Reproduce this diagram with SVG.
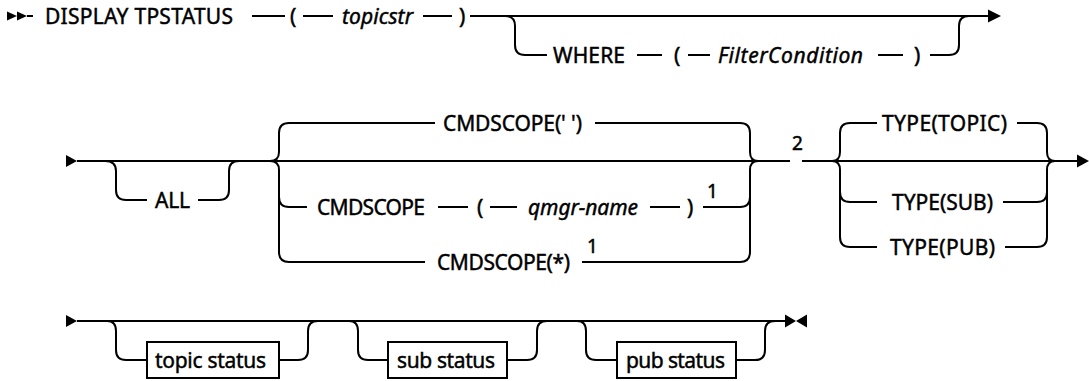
<svg xmlns="http://www.w3.org/2000/svg" width="1089" height="381" viewBox="0 0 1089 381">
<style>
.t{font-family:"Noto Sans","Liberation Sans",sans-serif;font-size:21px;fill:#000;stroke:#000;stroke-width:0.45}
.i{font-style:italic}
.s{font-family:"Noto Sans","Liberation Sans",sans-serif;font-size:19px;fill:#000;stroke:#000;stroke-width:0.5}
.c{fill:none;stroke:#000;stroke-width:2}
.a{fill:#000}
.b{fill:#fff;stroke:#000;stroke-width:2}
</style>
<rect width="1089" height="381" fill="#fff"/>
<g id="connectors">
<!-- row 1 -->
<polygon class="a" points="7,11.5 17,16 7,20.5"/>
<polygon class="a" points="17,11.5 27,16 17,20.5"/>
<path class="c" d="M27 16H33M252 16H285M303 16H333M423 16H452M470 16H989"/>
<polygon class="a" points="988,9.5 1001,16 988,22.5"/>
<path class="c" d="M505 16Q515 16 515 26V45Q515 55 525 55H547"/>
<path class="c" d="M637 55H662M688 55H710M878 55H903"/>
<path class="c" d="M930 55H949Q959 55 959 45V26Q959 16 969 16"/>
<!-- row 2 -->
<polygon class="a" points="66,155 77,161 66,167"/>
<path class="c" d="M77 161H790M802 161H1078"/>
<polygon class="a" points="1077,154.5 1089,161 1077,167.5"/>
<path class="c" d="M105 161Q116 161 116 171V190Q116 200 126 200H147"/>
<path class="c" d="M198 200H219Q229 200 229 190V171Q229 161 239 161"/>
<path class="c" d="M270 161Q279 161 279 152V133Q279 123 289 123H435"/>
<path class="c" d="M270 161Q279 161 279 170V252Q279 262 289 262H425"/>
<path class="c" d="M279 197Q279 207 289 207H307"/>
<path class="c" d="M438 207H468M490 207H517M650 207H680"/>
<path class="c" d="M595 123H740Q750 123 750 133V152Q750 161 758 161"/>
<path class="c" d="M582 262H740Q750 262 750 252V170Q750 161 758 161"/>
<path class="c" d="M703 207H740Q750 207 750 197"/>
<path class="c" d="M832 161Q840 161 840 152V133Q840 123 850 123H877"/>
<path class="c" d="M832 161Q840 161 840 170V237Q840 247 850 247H877"/>
<path class="c" d="M840 192Q840 202 850 202H877"/>
<path class="c" d="M1017 123H1037Q1047 123 1047 133V152Q1047 161 1055 161"/>
<path class="c" d="M1005 247H1037Q1047 247 1047 237V170Q1047 161 1055 161"/>
<path class="c" d="M1003 202H1037Q1047 202 1047 192"/>
<!-- row 3 -->
<polygon class="a" points="66,315 77,321 66,327"/>
<path class="c" d="M77 321H786"/>
<polygon class="a" points="785,314.5 796,321 785,327.5"/>
<polygon class="a" points="807,314.5 796,321 807,327.5"/>
<path class="c" d="M107 321Q116 321 116 331V350Q116 360 126 360H147"/>
<path class="c" d="M279 360H298Q308 360 308 350V331Q308 321 318 321"/>
<path class="c" d="M349 321Q358 321 358 331V350Q358 360 368 360H388"/>
<path class="c" d="M507 360H527Q537 360 537 350V331Q537 321 547 321"/>
<path class="c" d="M577 321Q586 321 586 331V350Q586 360 596 360H617"/>
<path class="c" d="M736 360H755Q765 360 765 350V331Q765 321 775 321"/>
</g>
<g id="n-display"><text class="t" x="45" y="23.5" textLength="188">DISPLAY TPSTATUS</text></g>
<g id="n-lp1"><text class="t" x="290" y="23.5">(</text></g>
<g id="n-topicstr"><text class="t i" x="342" y="23.5" textLength="71">topicstr</text></g>
<g id="n-rp1"><text class="t" x="459" y="23.5">)</text></g>
<g id="n-where"><text class="t" x="553" y="62.5" textLength="72">WHERE</text></g>
<g id="n-lp2"><text class="t" x="674" y="62.5">(</text></g>
<g id="n-filter"><text class="t i" x="718" y="62.5" textLength="145">FilterCondition</text></g>
<g id="n-rp2"><text class="t" x="914" y="62.5">)</text></g>
<g id="n-all"><text class="t" x="155" y="207.5" textLength="35">ALL</text></g>
<g id="n-cmdscope-blank"><text class="t" x="443" y="130.5" textLength="139">CMDSCOPE(' ')</text></g>
<g id="n-cmdscope-q">
<text class="t" x="317" y="214.5" textLength="108">CMDSCOPE</text>
<text class="t" x="477" y="214.5">(</text>
<text class="t i" x="528" y="214.5" textLength="110">qmgr-name</text>
<text class="t" x="687" y="214.5">)</text>
<text class="s" x="707" y="198">1</text>
</g>
<g id="n-cmdscope-star">
<text class="t" x="437" y="269.5" textLength="133">CMDSCOPE(*)</text>
<text class="s" x="587" y="253">1</text>
</g>
<g id="n-note2"><text class="s" x="792" y="150">2</text></g>
<g id="n-type-topic"><text class="t" x="882" y="130.5" textLength="125">TYPE(TOPIC)</text></g>
<g id="n-type-sub"><text class="t" x="892" y="209.5" textLength="101">TYPE(SUB)</text></g>
<g id="n-type-pub"><text class="t" x="890" y="254.5" textLength="105">TYPE(PUB)</text></g>
<g id="n-topic-status"><rect class="b" x="147" y="342" width="132" height="36"/><text class="t" x="155" y="367.5" textLength="111">topic status</text></g>
<g id="n-sub-status"><rect class="b" x="388" y="342" width="119" height="36"/><text class="t" x="397" y="367.5" textLength="98">sub status</text></g>
<g id="n-pub-status"><rect class="b" x="617" y="342" width="119" height="36"/><text class="t" x="626" y="367.5" textLength="99">pub status</text></g>
</svg>
